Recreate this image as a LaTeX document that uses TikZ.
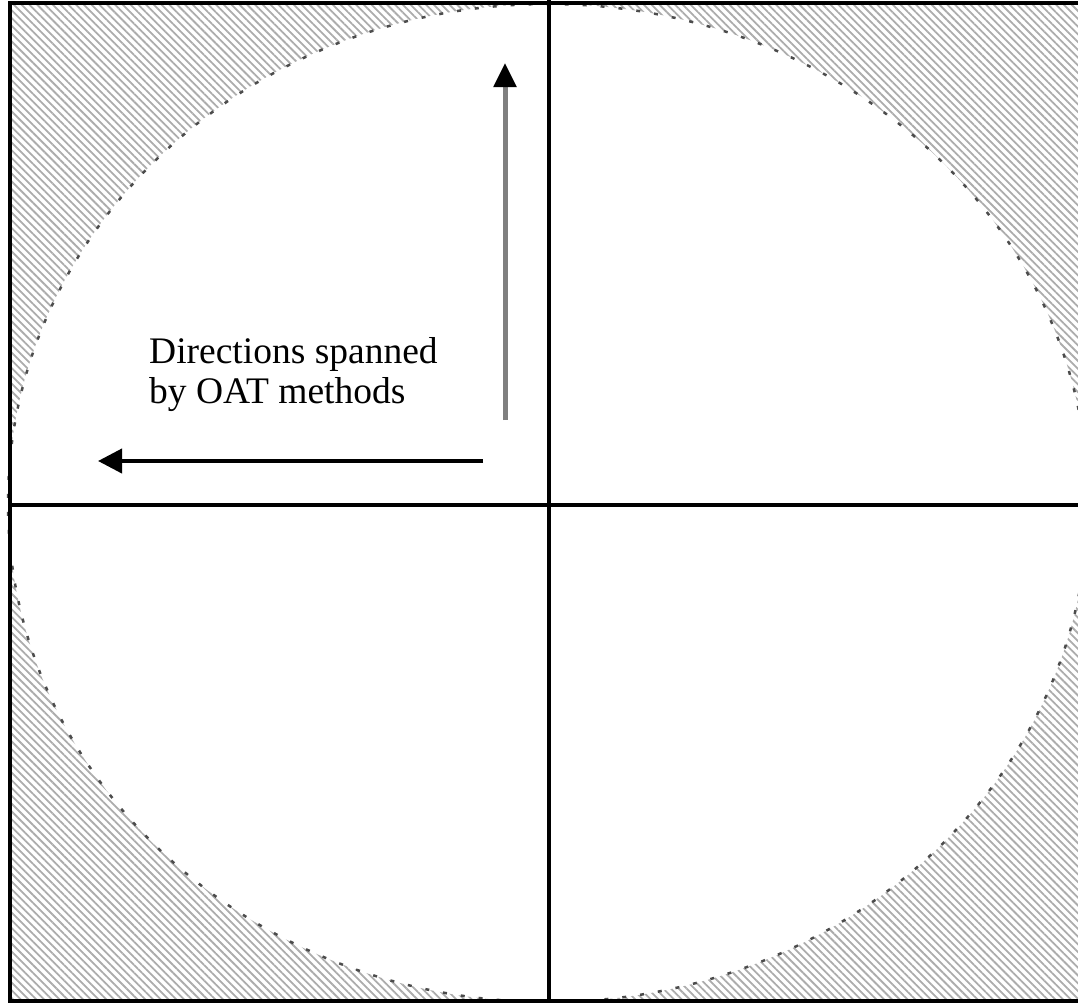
\documentclass[tikz,border=0pt]{standalone}
\usepackage{fontspec}
\setmainfont{Liberation Serif}
\usetikzlibrary{arrows.meta,patterns.meta}
\tikzset{
  frameline/.style={line width=4pt,black},
  hatch/.style={pattern={Lines[angle=-45,distance=5.5pt,line width=1.8pt]},pattern color=gray!65},
  boundary/.style={line width=2.5pt,black!70,dash pattern=on 4pt off 14pt},
  grayarrow/.style={line width=5pt,gray,-{Triangle[length=24pt,width=22pt,color=black]}},
  blackarrow/.style={line width=4pt,black,-{Triangle[length=24pt,width=24pt]}},
  label/.style={align=left,inner sep=0pt,font=\fontsize{37.5}{40}\selectfont}
}
\begin{document}
\begin{tikzpicture}[x=1pt,y=-1pt]
\useasboundingbox (0,0) rectangle (1078,1002);
\coordinate (c) at (548,503);
% hatched region outside the ellipse
\fill[hatch,even odd rule] (10,3) rectangle (1078,1001) (c) ellipse [x radius=540,y radius=499];
\draw[boundary] (c) ellipse [x radius=540,y radius=499];
% frame
\draw[frameline] (1078,3) -- (10,3) -- (10,1001) -- (1078,1001);
% axes
\coordinate (vt) at (549,0);
\coordinate (vb) at (549,1002);
\coordinate (hl) at (8,505);
\coordinate (hr) at (1078,505);
\draw[frameline] (vt) -- (vb);
\draw[frameline] (hl) -- (hr);
% arrows
\coordinate (vs) at (505,420);
\coordinate (ve) at (505,63);
\coordinate (hs) at (483,461);
\coordinate (he) at (98,461);
\draw[grayarrow] (vs) -- (ve);
\draw[blackarrow] (hs) -- (he);
% text
\node[label,anchor=north west] (txt) at (149,337) {Directions spanned\\by OAT methods};
\end{tikzpicture}
\end{document}
